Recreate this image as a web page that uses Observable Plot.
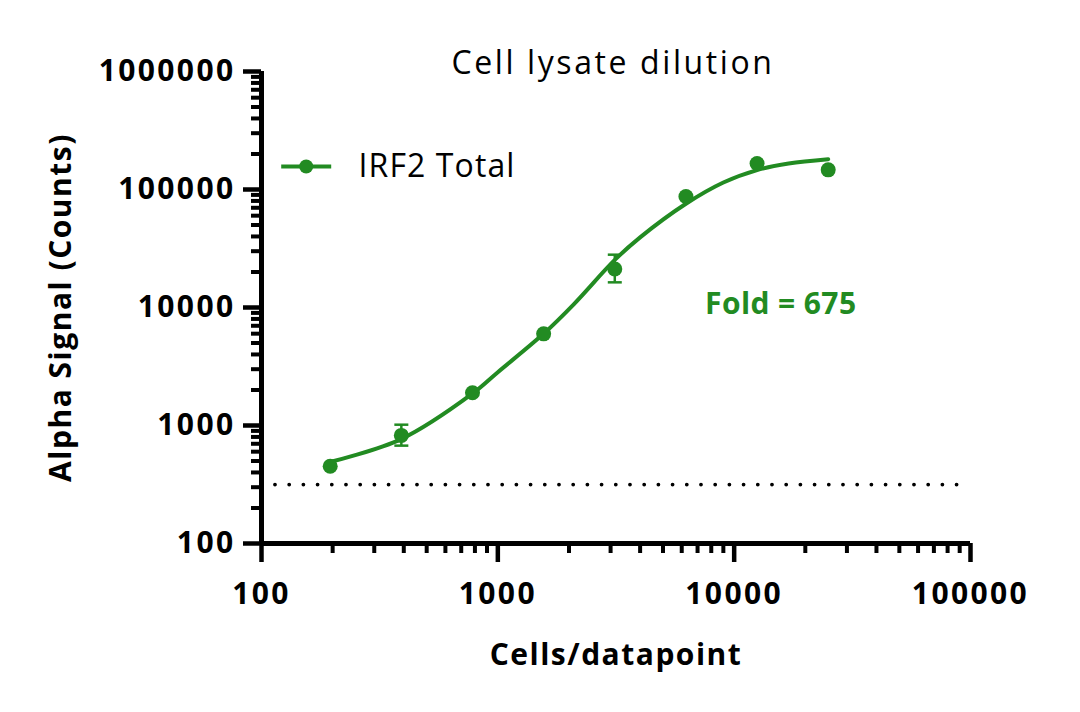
<!DOCTYPE html>
<html>
<head>
<meta charset="utf-8">
<script src="https://cdn.jsdelivr.net/npm/d3@7"></script>
<script src="https://cdn.jsdelivr.net/npm/@observablehq/plot@0.6"></script>
<style>
  html, body { margin: 0; padding: 0; background: #fff; }
  #chart { width: 1080px; height: 712px; }
</style>
</head>
<body>
<div id="chart"></div>
<script>
// ---- data ----
const cells = [195.3, 390.6, 781.25, 1562.5, 3125, 6250, 12500, 25000];
const signal = [451, 824, 1895, 5980, 21210, 87280, 165960, 146800];
const errLow = [null, 675, null, null, 16340, null, null, null];
const errHigh = [null, 1016, null, null, 28030, null, null, null];

// fitted curve
const fitCells = [195, 390, 780, 1000, 1560, 2100, 3125, 4000, 6250, 9000, 12500, 17000, 25000];
const fitSignal = [490, 767, 1860, 2830, 5980, 10700, 25300, 39300, 75700, 114600, 146000, 166000, 180700];

const baseline = 316;
const baselineFrom = 114.6;
const baselineTo = 89000;

const xTicks = [100, 1000, 10000, 100000];
const yTicks = [100, 1000, 10000, 100000, 1000000];

const title = "Cell lysate dilution";
const seriesName = "IRF2 Total";
const xLabel = "Cells/datapoint";
const yLabel = "Alpha Signal (Counts)";
const foldLabel = "Fold = 675";
const foldAt = {x: 15750, y: 10600};

// ---- derived ----
const green = "#228B22";
const minor = (ticks) => ticks.slice(0, -1).flatMap(d => d3.range(2, 10).map(k => k * d));
const xMinor = minor(xTicks);
const yMinor = minor(yTicks);
const errIdx = d3.range(cells.length).filter(i => errLow[i] != null);

const capSymbol = {draw(ctx) { ctx.moveTo(-7, 0); ctx.lineTo(7, 0); }};
const legendLine = {draw(ctx) { ctx.moveTo(-25, 0); ctx.lineTo(25, 0); }};

const font = "'Open Sans', sans-serif";

const chart = Plot.plot({
  width: 1080,
  height: 712,
  marginLeft: 261,
  marginRight: 110,
  marginTop: 71,
  marginBottom: 169,
  style: {fontFamily: font, background: "#fff", color: "#000", letterSpacing: "1.5px"},
  x: {type: "log", domain: [100, 100000], label: null},
  y: {type: "log", domain: [100, 1000000], label: null},
  marks: [
    // minor ticks
    Plot.axisX(xMinor, {tickSize: 10, tickFormat: () => "", strokeWidth: 4, stroke: "#000", label: null}),
    Plot.axisY(yMinor, {tickSize: 10, tickFormat: () => "", strokeWidth: 4, stroke: "#000", label: null}),
    // major ticks with labels
    Plot.axisX(xTicks, {tickSize: 19, tickPadding: 20, tickFormat: d => String(d), strokeWidth: 4.5,
      stroke: "#000", fill: "#000", fontSize: 30, fontWeight: 700, label: null}),
    Plot.axisY(yTicks, {tickSize: 18, tickPadding: 8, tickFormat: d => String(d), strokeWidth: 4.5,
      stroke: "#000", fill: "#000", fontSize: 30, fontWeight: 700, label: null}),
    // axis lines
    Plot.ruleX([100], {stroke: "#000", strokeWidth: 5}),
    Plot.ruleY([100], {stroke: "#000", strokeWidth: 5}),
    // dotted baseline
    Plot.ruleY([baseline], {x1: baselineFrom, x2: baselineTo, stroke: "#000", strokeWidth: 3.8,
      strokeDasharray: "0 14.2", strokeLinecap: "round"}),
    // fitted curve
    Plot.line(fitSignal, {x: fitCells, y: fitSignal, stroke: green, strokeWidth: 4, curve: "catmull-rom"}),
    // error bars
    Plot.ruleX(errIdx, {x: i => cells[i], y1: i => errLow[i], y2: i => errHigh[i], stroke: green, strokeWidth: 2.5}),
    Plot.dot(errIdx, {x: i => cells[i], y: i => errLow[i], symbol: capSymbol, stroke: green, strokeWidth: 2.5, fill: "none"}),
    Plot.dot(errIdx, {x: i => cells[i], y: i => errHigh[i], symbol: capSymbol, stroke: green, strokeWidth: 2.5, fill: "none"}),
    // data points
    Plot.dot(signal, {x: cells, y: signal, r: 7.5, fill: green}),
    // annotation
    Plot.text([foldLabel], {x: [foldAt.x], y: [foldAt.y], text: d => d, fill: green, fontSize: 30, fontWeight: 700, lineAnchor: "middle"}),
    // title
    Plot.text([title], {frameAnchor: "top", dx: -3, dy: -8, text: d => d, fontSize: 32, fill: "#000", lineAnchor: "middle"}),
    // legend
    Plot.dot([seriesName], {frameAnchor: "top-left", dx: 44.7, dy: 95, symbol: legendLine, stroke: green, strokeWidth: 4, fill: "none"}),
    Plot.dot([seriesName], {frameAnchor: "top-left", dx: 44.7, dy: 95, r: 7, fill: green}),
    Plot.text([seriesName], {frameAnchor: "top-left", dx: 97, dy: 95.5, text: d => d, textAnchor: "start", lineAnchor: "middle", fontSize: 32, fill: "#000"}),
    // axis labels
    Plot.text([xLabel], {frameAnchor: "bottom", dy: 112, text: d => d, lineAnchor: "middle", fontSize: 30, fontWeight: 700, fill: "#000"}),
    Plot.text([yLabel], {frameAnchor: "left", dx: -200, rotate: -90, text: d => d, textAnchor: "middle", lineAnchor: "middle", fontSize: 30, fontWeight: 700, fill: "#000"})
  ]
});

// per-text letter spacing to match the reference's wider typeface
const spacing = new Map([[title, "2.6px"], [seriesName, "1.1px"], [foldLabel, "0.4px"]]);
const tickLabels = new Set([...xTicks, ...yTicks].map(String));
d3.select(chart).selectAll("text").each(function () {
  const t = this.textContent;
  const s = spacing.get(t) || (tickLabels.has(t) ? "2.4px" : null);
  if (s) this.style.letterSpacing = s;
});

document.getElementById("chart").appendChild(chart);
</script>
</body>
</html>
